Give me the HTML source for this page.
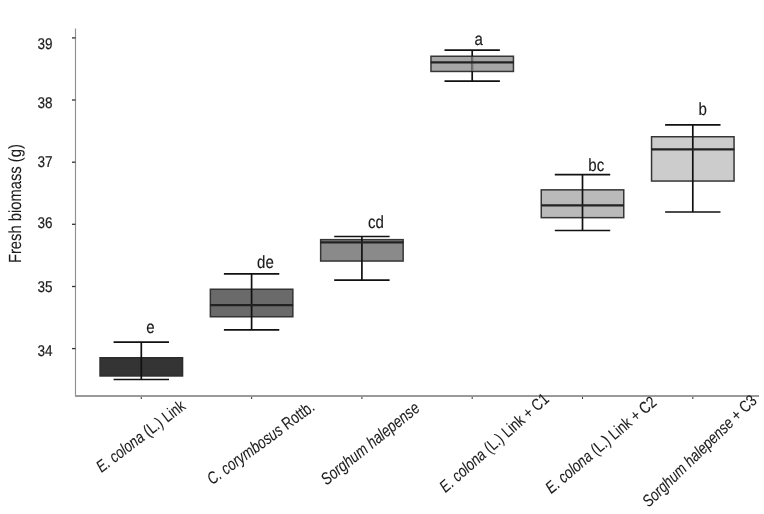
<!DOCTYPE html><html><head><meta charset='utf-8'><title>Fresh biomass</title><style>html,body{margin:0;padding:0;background:#fff;overflow:hidden;}svg{display:block;filter:grayscale(1);}</style></head><body>
<svg width='764' height='514' viewBox='0 0 764 514' font-family='"Liberation Sans", Arial, sans-serif' text-rendering='geometricPrecision'>
<rect width='764' height='514' fill='#fff'/>
<line x1='75.5' y1='28.5' x2='75.5' y2='396' stroke='#909090' stroke-width='1.15'/>
<line x1='75' y1='396' x2='759' y2='396' stroke='#9a9a9a' stroke-width='2'/>
<line x1='72' y1='37.9' x2='75.5' y2='37.9' stroke='#333' stroke-width='1.3'/>
<text transform='translate(52.4,49.1) scale(0.87,1)' font-size='15.5' text-anchor='end' fill='#1a1a1a' stroke='#1a1a1a' stroke-width='0.2'>39</text>
<line x1='72' y1='100.0' x2='75.5' y2='100.0' stroke='#333' stroke-width='1.3'/>
<text transform='translate(52.4,108.2) scale(0.87,1)' font-size='15.5' text-anchor='end' fill='#1a1a1a' stroke='#1a1a1a' stroke-width='0.2'>38</text>
<line x1='72' y1='162.2' x2='75.5' y2='162.2' stroke='#333' stroke-width='1.3'/>
<text transform='translate(52.4,167.2) scale(0.87,1)' font-size='15.5' text-anchor='end' fill='#1a1a1a' stroke='#1a1a1a' stroke-width='0.2'>37</text>
<line x1='72' y1='224.3' x2='75.5' y2='224.3' stroke='#333' stroke-width='1.3'/>
<text transform='translate(52.4,227.8) scale(0.87,1)' font-size='15.5' text-anchor='end' fill='#1a1a1a' stroke='#1a1a1a' stroke-width='0.2'>36</text>
<line x1='72' y1='286.5' x2='75.5' y2='286.5' stroke='#333' stroke-width='1.3'/>
<text transform='translate(52.4,291.8) scale(0.87,1)' font-size='15.5' text-anchor='end' fill='#1a1a1a' stroke='#1a1a1a' stroke-width='0.2'>35</text>
<line x1='72' y1='348.6' x2='75.5' y2='348.6' stroke='#333' stroke-width='1.3'/>
<text transform='translate(52.4,355.8) scale(0.87,1)' font-size='15.5' text-anchor='end' fill='#1a1a1a' stroke='#1a1a1a' stroke-width='0.2'>34</text>
<line x1='141.3' y1='397' x2='141.3' y2='399' stroke='#444' stroke-width='1.1'/>
<rect x='100.05' y='357.75' width='82.50' height='18.20' fill='#343434' stroke='#2c2c2c' stroke-width='1.5'/>
<line x1='141.3' y1='342.2' x2='141.3' y2='379.5' stroke='#111' stroke-width='1.7'/>
<line x1='113.6' y1='342.2' x2='169.0' y2='342.2' stroke='#111' stroke-width='1.7'/>
<line x1='113.6' y1='379.5' x2='169.0' y2='379.5' stroke='#111' stroke-width='1.7'/>
<line x1='251.6' y1='397' x2='251.6' y2='399' stroke='#444' stroke-width='1.1'/>
<rect x='210.35' y='289.25' width='82.50' height='27.50' fill='#6a6a6a' stroke='#333' stroke-width='1.5'/>
<line x1='251.6' y1='273.8' x2='251.6' y2='329.8' stroke='#111' stroke-width='1.7'/>
<line x1='210.10' y1='305.1' x2='293.10' y2='305.1' stroke='#222' stroke-width='2.2'/>
<line x1='223.9' y1='273.8' x2='279.3' y2='273.8' stroke='#111' stroke-width='1.7'/>
<line x1='223.9' y1='329.8' x2='279.3' y2='329.8' stroke='#111' stroke-width='1.7'/>
<line x1='361.9' y1='397' x2='361.9' y2='399' stroke='#444' stroke-width='1.1'/>
<rect x='320.65' y='239.65' width='82.50' height='21.40' fill='#8a8a8a' stroke='#363636' stroke-width='1.5'/>
<line x1='361.9' y1='236.5' x2='361.9' y2='280.2' stroke='#111' stroke-width='1.7'/>
<line x1='320.40' y1='242.3' x2='403.40' y2='242.3' stroke='#222' stroke-width='2.2'/>
<line x1='334.2' y1='236.5' x2='389.6' y2='236.5' stroke='#111' stroke-width='1.7'/>
<line x1='334.2' y1='280.2' x2='389.6' y2='280.2' stroke='#111' stroke-width='1.7'/>
<line x1='472.2' y1='397' x2='472.2' y2='399' stroke='#444' stroke-width='1.1'/>
<rect x='430.95' y='56.25' width='82.50' height='15.20' fill='#a6a6a6' stroke='#363636' stroke-width='1.5'/>
<line x1='472.2' y1='50.2' x2='472.2' y2='81.2' stroke='#111' stroke-width='1.7'/>
<line x1='472.2' y1='56.7' x2='472.2' y2='71.0' stroke='#707070' stroke-width='2'/>
<line x1='430.70' y1='62.4' x2='513.70' y2='62.4' stroke='#222' stroke-width='2.2'/>
<line x1='444.5' y1='50.2' x2='499.9' y2='50.2' stroke='#111' stroke-width='1.7'/>
<line x1='444.5' y1='81.2' x2='499.9' y2='81.2' stroke='#111' stroke-width='1.7'/>
<line x1='582.5' y1='397' x2='582.5' y2='399' stroke='#444' stroke-width='1.1'/>
<rect x='541.25' y='189.85' width='82.50' height='27.80' fill='#bababa' stroke='#363636' stroke-width='1.5'/>
<line x1='582.5' y1='174.6' x2='582.5' y2='230.5' stroke='#111' stroke-width='1.7'/>
<line x1='541.00' y1='205.3' x2='624.00' y2='205.3' stroke='#222' stroke-width='2.2'/>
<line x1='554.8' y1='174.6' x2='610.2' y2='174.6' stroke='#111' stroke-width='1.7'/>
<line x1='554.8' y1='230.5' x2='610.2' y2='230.5' stroke='#111' stroke-width='1.7'/>
<line x1='692.8' y1='397' x2='692.8' y2='399' stroke='#444' stroke-width='1.1'/>
<rect x='651.55' y='136.75' width='82.50' height='44.30' fill='#cccccc' stroke='#363636' stroke-width='1.5'/>
<line x1='692.8' y1='124.9' x2='692.8' y2='212.0' stroke='#111' stroke-width='1.7'/>
<line x1='651.30' y1='149.3' x2='734.30' y2='149.3' stroke='#222' stroke-width='2.2'/>
<line x1='665.1' y1='124.9' x2='720.5' y2='124.9' stroke='#111' stroke-width='1.7'/>
<line x1='665.1' y1='212.0' x2='720.5' y2='212.0' stroke='#111' stroke-width='1.7'/>
<text transform='translate(146.2,332.8) scale(0.86,1)' font-size='17.5' fill='#1a1a1a' stroke='#1a1a1a' stroke-width='0.15'>e</text>
<text transform='translate(257.1,268.1) scale(0.86,1)' font-size='17.5' fill='#1a1a1a' stroke='#1a1a1a' stroke-width='0.15'>de</text>
<text transform='translate(367.9,227.6) scale(0.86,1)' font-size='17.5' fill='#1a1a1a' stroke='#1a1a1a' stroke-width='0.15'>cd</text>
<text transform='translate(474.4,44.9) scale(0.86,1)' font-size='17.5' fill='#1a1a1a' stroke='#1a1a1a' stroke-width='0.15'>a</text>
<text transform='translate(588.3,171.0) scale(0.86,1)' font-size='17.5' fill='#1a1a1a' stroke='#1a1a1a' stroke-width='0.15'>bc</text>
<text transform='translate(698.6,114.9) scale(0.86,1)' font-size='17.5' fill='#1a1a1a' stroke='#1a1a1a' stroke-width='0.15'>b</text>
<text transform='translate(20.5,263.1) rotate(-90) scale(0.844,1)' font-size='17.5' fill='#1a1a1a' stroke='#1a1a1a' stroke-width='0.1'>Fresh biomass (g)</text>
<text transform='translate(141.0,436.65) rotate(-37.25) scale(0.804,1)' font-size='16.5' text-anchor='middle' dominant-baseline='central' fill='#1a1a1a' stroke='#1a1a1a' stroke-width='0.1'><tspan font-style='italic'>E. colona</tspan> (L.) Link</text>
<text transform='translate(260.6,442.6) rotate(-36.0) scale(0.785,1)' font-size='17.0' text-anchor='middle' dominant-baseline='central' fill='#1a1a1a' stroke='#1a1a1a' stroke-width='0.1'><tspan font-style='italic'>C. corymbosus</tspan> Rottb.</text>
<text transform='translate(369.85,443.2) rotate(-38.7) scale(0.794,1)' font-size='17.0' text-anchor='middle' dominant-baseline='central' fill='#1a1a1a' stroke='#1a1a1a' stroke-width='0.1'><tspan font-style='italic'>Sorghum halepense</tspan></text>
<text transform='translate(494.5,443.25) rotate(-41.6) scale(0.808,1)' font-size='16.5' text-anchor='middle' dominant-baseline='central' fill='#1a1a1a' stroke='#1a1a1a' stroke-width='0.1'><tspan font-style='italic'>E. colona</tspan> (L.) Link + C1</text>
<text transform='translate(601.25,445.25) rotate(-40.4) scale(0.807,1)' font-size='16.5' text-anchor='middle' dominant-baseline='central' fill='#1a1a1a' stroke='#1a1a1a' stroke-width='0.1'><tspan font-style='italic'>E. colona</tspan> (L.) Link + C2</text>
<text transform='translate(699.85,451.25) rotate(-44.2) scale(0.811,1)' font-size='16.5' text-anchor='middle' dominant-baseline='central' fill='#1a1a1a' stroke='#1a1a1a' stroke-width='0.1'><tspan font-style='italic'>Sorghum halepense</tspan> + C3</text>
</svg></body></html>
